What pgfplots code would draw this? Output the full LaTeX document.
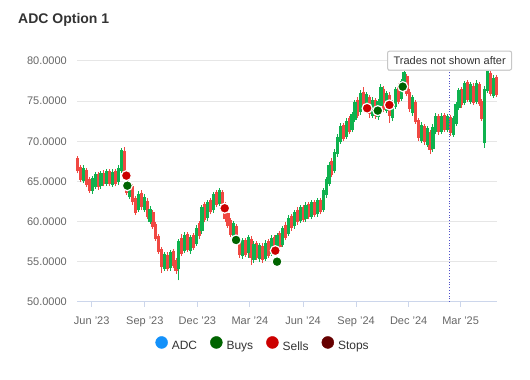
\documentclass[border=0pt]{standalone}
\usepackage{pgfplots}
\pgfplotsset{compat=1.18}
\usepackage{pgfplotstable}
\usepackage{fontspec}
\setmainfont{Liberation Sans}
\definecolor{candgreen}{RGB}{14,178,78}
\definecolor{candred}{RGB}{240,72,66}
\definecolor{buyc}{RGB}{0,100,0}
\definecolor{sellc}{RGB}{204,0,0}
\definecolor{stopc}{RGB}{102,0,0}
\definecolor{adcblue}{RGB}{20,145,250}
\definecolor{gridc}{RGB}{230,230,230}
\definecolor{axisc}{RGB}{204,214,235}
\definecolor{labelc}{RGB}{102,102,102}
\definecolor{darktext}{RGB}{51,51,51}
\definecolor{plotline}{RGB}{80,80,200}

\pgfplotstableread{
d o c h l
-24 67.9 66.3 68.2 66.0
-19 66.8 65.2 67.1 64.9
-9 66.4 64.6 66.7 64.3
-4 65.25 63.85 65.5 63.6
11 65.9 64.3 66.2 64.0
21 66.1 64.7 66.4 64.4
31 66.25 64.65 66.5 64.4
41 66.25 64.65 66.5 64.4
56 68.8 66.0 69.3 65.7
61 66.0 63.6 66.3 63.3
71 64.4 62.4 64.7 62.1
76 62.9 61.1 63.2 60.8
86 63.6 61.8 63.9 61.5
96 62.6 60.6 62.9 60.3
106 61.15 59.35 61.4 59.1
111 59.65 57.85 59.9 57.6
116 58.25 56.25 58.5 56.0
121 56.6 54.4 56.9 53.6
131 55.9 54.1 56.2 53.8
141 56.3 54.5 56.6 54.2
146 55.2 53.8 55.5 53.5
156 57.95 55.95 58.5 55.7
166 58.45 56.45 58.7 56.2
176 58.35 56.75 58.6 56.5
186 59.8 58.2 60.1 57.9
196 62.15 60.15 62.4 59.9
206 62.75 61.15 63.0 60.9
216 63.7 62.1 64.0 61.8
226 63.65 61.65 63.9 61.4
231 62.1 60.3 62.4 60.0
236 61.1 59.5 61.4 59.2
241 60.2 58.4 60.5 58.1
251 59.4 57.6 59.7 57.3
256 57.9 55.9 58.2 55.5
266 57.7 55.9 58.0 55.6
276 57.9 55.5 58.2 54.6
286 57.3 55.5 57.6 55.2
296 57.0 55.2 57.3 54.9
306 57.55 55.75 57.8 55.5
316 58.1 56.1 58.4 55.8
326 58.65 56.85 58.9 56.6
336 59.6 58.0 59.9 57.7
346 60.75 59.15 61.0 58.9
356 61.5 59.9 61.8 59.6
366 61.85 60.25 62.1 60.0
376 62.2 60.6 62.5 60.3
386 62.45 60.85 62.7 60.6
396 62.75 61.15 63.0 60.9
416 67.6 65.8 67.9 65.5
436 72.05 70.25 72.3 70.0
446 72.95 71.15 73.2 70.9
461 75.2 73.2 75.5 72.9
471 76.15 74.15 76.8 73.9
481 75.55 73.35 75.8 72.9
491 75.1 73.1 75.4 72.8
506 76.55 73.95 76.9 73.6
516 75.8 73.2 76.1 72.3
531 76.9 74.9 77.2 74.6
546 78.1 75.9 78.4 75.6
551 76.2 74.0 76.5 73.7
561 74.85 72.45 75.1 72.2
566 72.6 70.4 72.9 70.1
576 71.9 69.9 72.2 69.6
586 71.1 68.9 71.4 68.4
601 73.1 71.1 73.4 70.8
611 73.25 71.45 73.5 71.2
621 73.0 71.0 73.3 70.7
641 76.5 74.5 76.8 74.2
651 77.35 75.15 77.6 74.9
661 76.95 74.75 77.2 74.5
671 77.1 74.7 77.4 74.4
676 75.0 72.8 75.3 72.5
691 78.55 75.95 78.9 75.6
701 77.95 75.75 78.2 75.5
}\downtab

\pgfplotstableread{
d o c h l
-14 65.1 66.7 67.0 64.8
1 63.8 65.4 65.7 63.5
6 64.35 65.95 66.2 64.1
16 64.4 66.0 66.3 64.1
26 64.75 66.35 66.6 64.5
36 64.6 66.2 66.5 64.3
46 64.9 66.7 67.0 64.6
51 66.35 68.95 69.2 66.1
66 63.05 64.85 65.1 62.8
81 61.45 63.45 63.8 61.2
91 61.5 63.1 63.4 61.2
101 60.0 61.6 61.9 59.7
126 54.15 55.95 56.2 53.9
136 54.2 56.2 56.5 53.9
151 54.15 57.55 57.9 52.7
161 56.35 58.35 58.7 56.1
171 56.3 58.1 58.4 56.0
181 57.25 59.25 59.6 57.0
191 58.8 61.8 62.1 58.5
201 60.4 62.4 62.7 60.1
211 61.4 63.4 63.7 61.1
221 62.15 63.95 64.2 61.9
246 58.0 59.8 60.1 57.7
261 55.7 57.7 58.0 55.4
271 56.05 58.05 58.4 55.5
281 55.25 57.25 57.6 54.9
291 55.3 57.1 57.4 55.0
301 55.35 57.35 57.7 55.1
311 56.0 58.0 58.3 55.7
321 56.3 58.3 58.6 56.0
331 57.15 59.15 59.5 56.9
341 58.45 60.45 60.8 58.2
351 59.4 61.2 61.5 59.1
361 60.05 61.85 62.1 59.8
371 60.3 62.1 62.4 60.0
381 60.6 62.4 62.7 60.3
391 60.9 62.7 63.0 60.6
401 61.5 63.9 64.2 61.2
406 63.3 65.3 65.6 63.0
411 64.7 67.1 67.4 64.4
421 66.3 68.7 69.0 66.0
426 68.4 70.6 70.9 68.1
431 69.95 71.95 72.3 69.7
441 70.55 72.55 72.9 70.3
451 71.4 73.4 73.7 71.1
456 72.7 74.9 75.2 72.4
466 73.6 76.0 76.4 73.3
476 73.9 75.9 76.2 73.5
486 73.2 75.2 75.5 72.9
496 73.0 75.0 75.3 72.7
501 74.35 76.75 77.1 74.0
511 73.8 76.0 76.3 73.5
521 72.85 74.85 75.2 72.5
526 74.3 76.5 76.8 74.0
536 75.3 77.5 77.8 75.0
541 76.65 78.65 78.9 76.4
556 73.5 75.5 75.8 73.2
571 70.05 72.05 72.4 69.8
581 69.6 71.6 71.9 69.3
591 69.0 71.8 72.1 68.7
596 71.2 73.2 73.5 70.9
606 71.2 73.2 73.5 70.9
616 71.35 73.15 73.4 71.1
626 70.85 72.85 73.1 70.6
631 72.2 74.6 74.9 71.9
636 74.15 76.35 76.7 73.9
646 74.8 77.2 77.5 74.5
656 74.9 77.1 77.4 74.6
666 74.9 77.3 77.6 74.6
681 69.75 76.55 76.9 69.2
686 76.3 78.7 79.0 76.0
696 75.65 77.85 78.2 75.4
}\uptab

\pgfplotstableread{
d v
61.7 64.48
250 57.72
321 55.02
495.5 73.82
538.7 76.81
}\buytab

\pgfplotstableread{
d v
60 65.73
230.4 61.67
318 56.39
477 74.12
515.6 74.53
}\selltab

\begin{document}
\begin{tikzpicture}
\useasboundingbox (0,0) rectangle (530bp,380bp);
\node[anchor=west, font=\fontsize{14bp}{16bp}\selectfont\bfseries, text=darktext, inner sep=0pt] at (18bp,360bp) {ADC Option 1};
\begin{axis}[
  at={(77bp,78bp)}, anchor=south west,
  scale only axis, width=420bp, height=241bp,
  xmin=-25.5, xmax=702, ymin=50, ymax=80,
  axis x line*=bottom, axis y line*=left,
  x axis line style={draw=axisc, line width=1bp, -},
  y axis line style={draw=none},
  xtick={0,92,183,274,366,458,549,639},
  xticklabels={Jun '23,Sep '23,Dec '23,Mar '24,Jun '24,Sep '24,Dec '24,Mar '25},
  ytick={50,55,60,65,70,75,80},
  ymajorgrids, grid style={draw=gridc, line width=1bp},
  tick align=outside, major tick length=5bp,
  xtick style={draw=axisc, line width=1bp},
  ytick style={draw=none},
  /pgf/number format/assume math mode=true,
  yticklabel={\pgfmathprintnumber[fixed,fixed zerofill,precision=4]{\tick}},
  tick label style={font=\fontsize{11bp}{13bp}\selectfont, text=labelc},
  yticklabel style={anchor=east, inner sep=0pt, xshift=-5bp},
  xticklabel style={yshift=-6bp},
  clip=false,
  legend columns=4,
  legend style={at={(0.443,-0.178)}, anchor=center, draw=none, fill=none,
    font=\fontsize{12bp}{14bp}\selectfont, text=darktext,
    /tikz/every even column/.append style={column sep=11bp},
    /tikz/every odd column/.append style={column sep=2bp}},
]
% wicks
\addplot[forget plot, mark=none, draw=candred, line width=1bp,
  quiver={u=0, v=\thisrow{h}-\thisrow{l}, every arrow/.append style={-}}]
  table[x=d, y=l] {\downtab};
\addplot[forget plot, mark=none, draw=candgreen, line width=1bp,
  quiver={u=0, v=\thisrow{h}-\thisrow{l}, every arrow/.append style={-}}]
  table[x=d, y=l] {\uptab};
% bodies
\addplot[forget plot, mark=none, draw=candred, line width=3.2bp,
  quiver={u=0, v=\thisrow{c}-\thisrow{o}, every arrow/.append style={-}}]
  table[x=d, y=o] {\downtab};
\addplot[forget plot, mark=none, draw=candgreen, line width=3.2bp,
  quiver={u=0, v=\thisrow{c}-\thisrow{o}, every arrow/.append style={-}}]
  table[x=d, y=o] {\uptab};
% trades
\addplot[only marks, forget plot, mark=*, mark size=5bp, mark options={fill=buyc, draw=white, line width=1.2bp}]
  table[x=d, y=v] {\buytab};
\addplot[only marks, forget plot, mark=*, mark size=5bp, mark options={fill=sellc, draw=white, line width=1.2bp}]
  table[x=d, y=v] {\selltab};
% cut-off line
\draw[plotline, dotted, line width=0.8bp] (axis cs:619,50) -- (axis cs:619,78.8);
\fill[black!12] ([xshift=-61bp,yshift=-10.5bp]axis cs:619,80.05) rectangle ([xshift=61bp,yshift=8.5bp]axis cs:619,80.05);
\node[draw=gridc!70!gray, fill=white, rounded corners=2bp, line width=1bp, inner xsep=6bp,
  minimum height=19bp, font=\fontsize{11bp}{13bp}\selectfont, text=darktext, anchor=west]
  at ([xshift=-62bp]axis cs:619,80.05) {Trades not shown after};
% legend
\addlegendimage{legend image code/.code={\fill[adcblue] (0bp,4bp) circle (6bp);}}
\addlegendentry{ADC}
\addlegendimage{legend image code/.code={\fill[buyc] (0bp,4bp) circle (6bp);}}
\addlegendentry{Buys}
\addlegendimage{legend image code/.code={\fill[sellc] (0bp,4bp) circle (6bp);}}
\addlegendentry{Sells}
\addlegendimage{legend image code/.code={\fill[stopc] (0bp,4bp) circle (6bp);}}
\addlegendentry{Stops}
\end{axis}
\end{tikzpicture}
\end{document}
